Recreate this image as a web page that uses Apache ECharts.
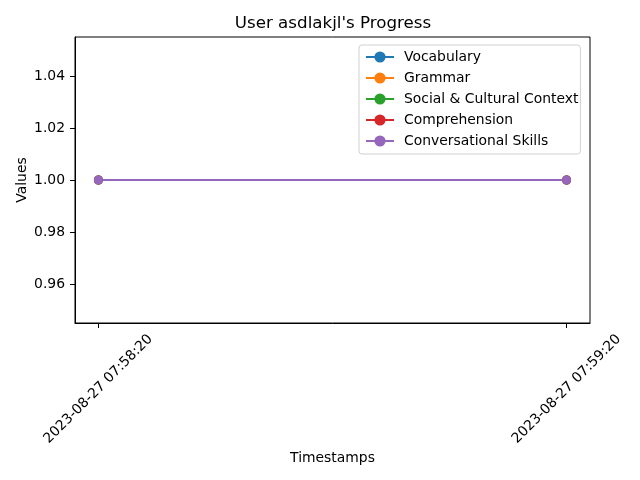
<!DOCTYPE html>
<html>
<head>
<meta charset="utf-8">
<script src="https://cdn.jsdelivr.net/npm/echarts@6/dist/echarts.min.js"></script>
<style>html,body{margin:0;padding:0;background:#fff}#c{width:640px;height:480px}</style>
</head>
<body>
<div id="c"></div>
<script>
const timestamps = ['2023-08-27 07:58:20', '2023-08-27 07:59:20'];
const seriesNames = ['Vocabulary', 'Grammar', 'Social & Cultural Context', 'Comprehension', 'Conversational Skills'];
const vocabulary = [1, 1];
const grammar = [1, 1];
const socialCultural = [1, 1];
const comprehension = [1, 1];
const conversational = [1, 1];
const yTicks = [0.96, 0.98, 1.00, 1.02, 1.04];
const colors = ['#1f77b4', '#ff7f0e', '#2ca02c', '#d62728', '#9467bd'];

const allValues = [vocabulary, grammar, socialCultural, comprehension, conversational];
const xIdx = timestamps.map((t, i) => i);
const font = 'DejaVu Sans';

const chart = echarts.init(document.getElementById('c'), null, {renderer: 'canvas'});
chart.setOption({
  animation: false,
  backgroundColor: '#fff',
  textStyle: {fontFamily: font},
  title: {
    text: "User asdlakjl's Progress",
    left: 333, textAlign: 'center', top: 15, padding: 0,
    textStyle: {fontFamily: font, fontSize: 16.7, fontWeight: 'normal', color: '#000'}
  },
  grid: {left: 75, right: 50, top: 37, bottom: 157, show: true, borderColor: '#000', borderWidth: 1, backgroundColor: 'transparent'},
  legend: {
    orient: 'vertical', left: 359, top: 45,
    padding: [5, 2, 6, 6],
    itemWidth: 28, itemHeight: 14, itemGap: 7,
    backgroundColor: 'rgba(255,255,255,0.8)',
    borderColor: '#d0d0d0', borderWidth: 1, borderRadius: 3,
    selectedMode: false,
    textStyle: {fontFamily: font, fontSize: 13.9, color: '#000', lineHeight: 14, padding: [0, 0, 0, 5]},
    data: seriesNames
  },
  xAxis: {
    type: 'value', min: -0.05, max: 1.05,
    name: 'Timestamps', nameLocation: 'middle', nameGap: 128, nameMoveOverlap: false,
    nameTextStyle: {fontFamily: font, fontSize: 13.9, color: '#000'},
    axisLine: {show: true, onZero: false, lineStyle: {color: '#000', width: 1}},
    axisTick: {show: true, customValues: xIdx, length: 5, lineStyle: {color: '#000'}},
    axisLabel: {
      customValues: xIdx, rotate: 45, margin: 66,
      align: 'center', verticalAlign: 'middle',
      fontFamily: font, fontSize: 13.9, color: '#000',
      formatter: v => timestamps[Math.round(v)]
    },
    splitLine: {show: false}
  },
  yAxis: {
    type: 'value', min: 0.945, max: 1.055,
    name: 'Values', nameLocation: 'middle', nameGap: 46, nameRotate: 90, nameMoveOverlap: false,
    nameTextStyle: {fontFamily: font, fontSize: 13.9, color: '#000'},
    axisLine: {show: true, onZero: false, lineStyle: {color: '#000', width: 1}},
    axisTick: {show: true, customValues: yTicks, length: 5, lineStyle: {color: '#000'}},
    axisLabel: {
      customValues: yTicks, margin: 10,
      fontFamily: font, fontSize: 13.9, color: '#000',
      formatter: v => v.toFixed(2)
    },
    splitLine: {show: false}
  },
  series: seriesNames.map((name, k) => ({
    name: name, type: 'line',
    data: xIdx.map(i => [i, allValues[k][i]]),
    symbol: 'circle', symbolSize: 9, showSymbol: true,
    lineStyle: {color: colors[k], width: 2},
    itemStyle: {color: colors[k], borderWidth: 0},
    color: colors[k]
  }))
});
</script>
</body>
</html>
